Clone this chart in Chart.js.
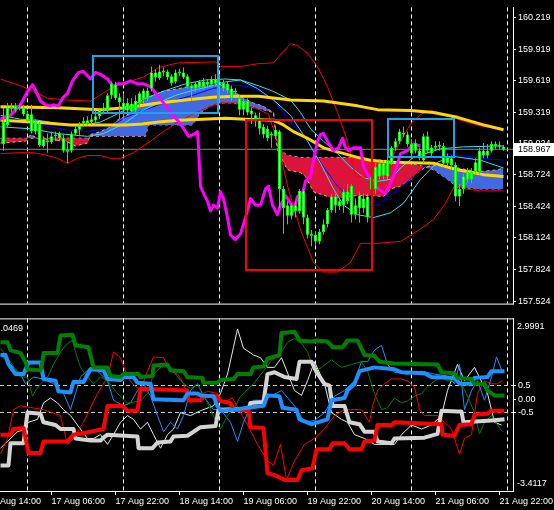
<!DOCTYPE html>
<html>
<head>
<meta charset="utf-8">
<script src="https://cdn.jsdelivr.net/npm/chart.js@4.4.1/dist/chart.umd.min.js"></script>
<style>
  html, body { margin: 0; padding: 0; background: #000; }
  #wrap { width: 554px; height: 510px; position: relative; overflow: hidden; background: #000; }
  canvas { display: block; position: absolute; left: 0; }
  #price { top: 0; }
  #osc { top: 311px; }
</style>
</head>
<body>
<div id="wrap">
  <canvas id="price" width="554" height="311"></canvas>
  <canvas id="osc" width="554" height="199"></canvas>
</div>
<script>
// hours are counted from 16 Aug 14:00, one candle per hour
var firstBarHour = 4;
var candleOpen = [
  159.017,159.199,159.353,159.380,159.353,159.362,159.308,159.299,159.135,159.208,
  159.063,159.035,159.035,159.090,159.117,159.072,158.944,158.954,159.117,159.153,
  159.217,159.217,159.226,159.244,159.281,159.335,159.344,159.480,159.580,159.462,
  159.408,159.335,159.399,159.335,159.408,159.444,159.526,159.544,159.698,159.644,
  159.698,159.707,159.662,159.608,159.689,159.698,159.662,159.571,159.544,159.562,
  159.608,159.580,159.580,159.635,159.571,159.598,159.589,159.544,159.508,159.453,
  159.344,159.426,159.335,159.290,159.244,159.181,159.162,159.099,159.090,159.135,
  158.590,158.436,158.336,158.436,158.381,158.572,158.318,158.163,158.154,158.091,
  158.181,158.254,158.390,158.518,158.472,158.436,158.563,158.345,158.436,158.409,
  158.499,158.318,158.590,158.590,158.708,158.835,158.708,158.835,158.981,159.044,
  159.126,159.108,159.017,158.954,158.954,158.863,159.090,158.981,158.981,158.990,
  158.999,158.835,158.881,158.817,158.518,158.590,158.681,158.754,158.754,158.754,
  158.954,158.908,158.954,159.017,158.990,158.990];
var candleHigh = [
  159.362,159.408,159.408,159.408,159.399,159.390,159.335,159.390,159.253,159.226,
  159.090,159.117,159.135,159.135,159.135,159.108,159.044,159.135,159.190,159.226,
  159.271,159.281,159.299,159.335,159.362,159.408,159.499,159.608,159.608,159.499,
  159.499,159.453,159.453,159.480,159.517,159.544,159.553,159.753,159.726,159.771,
  159.744,159.726,159.680,159.726,159.735,159.744,159.680,159.589,159.608,159.626,
  159.644,159.635,159.662,159.680,159.680,159.626,159.608,159.571,159.553,159.480,
  159.444,159.453,159.362,159.317,159.317,159.208,159.190,159.135,159.181,159.153,
  158.617,158.472,158.454,158.472,158.590,158.590,158.345,158.200,158.181,158.209,
  158.300,158.409,158.545,158.545,158.499,158.590,158.636,158.636,158.499,158.563,
  158.545,158.545,158.726,158.835,158.863,158.863,158.890,158.999,159.072,159.162,
  159.181,159.135,159.063,159.063,158.981,159.117,159.135,159.008,159.044,159.044,
  159.026,158.926,158.908,158.845,158.636,158.736,158.790,158.790,158.881,158.981,
  159.026,159.017,159.044,159.044,159.044,159.008];
var candleLow = [
  158.954,159.172,159.317,159.317,159.335,159.281,159.226,159.117,159.108,158.990,
  158.981,158.935,159.017,159.044,159.044,158.935,158.835,158.935,159.090,159.090,
  159.181,159.190,159.199,159.199,159.253,159.299,159.317,159.444,159.435,159.253,
  159.244,159.317,159.317,159.317,159.362,159.408,159.426,159.517,159.608,159.626,
  159.662,159.626,159.571,159.589,159.662,159.635,159.544,159.426,159.517,159.535,
  159.535,159.553,159.553,159.571,159.408,159.517,159.499,159.426,159.480,159.290,
  159.290,159.290,159.208,159.181,159.108,159.072,159.044,158.981,159.063,158.409,
  158.163,158.254,158.300,158.318,158.354,158.254,158.118,158.045,158.045,158.064,
  158.154,158.227,158.363,158.363,158.390,158.363,158.445,158.272,158.300,158.272,
  158.363,158.272,158.499,158.545,158.681,158.681,158.681,158.817,158.954,159.017,
  159.081,158.990,158.899,158.926,158.863,158.835,158.926,158.899,158.954,158.954,
  158.808,158.808,158.772,158.472,158.427,158.545,158.645,158.645,158.726,158.726,
  158.881,158.881,158.935,158.972,158.972,158.954];
var candleClose = [
  159.226,159.362,159.371,159.344,159.371,159.299,159.244,159.135,159.226,159.008,
  158.999,159.053,159.090,159.108,159.072,158.954,158.963,159.117,159.162,159.190,
  159.235,159.244,159.253,159.281,159.335,159.362,159.480,159.589,159.453,159.417,
  159.344,159.408,159.326,159.426,159.499,159.526,159.453,159.698,159.653,159.707,
  159.717,159.653,159.598,159.698,159.707,159.653,159.562,159.544,159.589,159.608,
  159.562,159.608,159.635,159.589,159.608,159.544,159.526,159.453,159.526,159.344,
  159.426,159.317,159.299,159.253,159.162,159.108,159.072,159.117,159.153,158.590,
  158.409,158.336,158.436,158.381,158.572,158.318,158.154,158.145,158.091,158.181,
  158.254,158.390,158.518,158.436,158.427,158.563,158.472,158.617,158.345,158.527,
  158.409,158.518,158.708,158.799,158.835,158.717,158.863,158.981,159.044,159.135,
  159.108,159.017,158.926,159.026,158.890,159.090,158.954,158.926,158.999,159.008,
  158.835,158.890,158.817,158.518,158.590,158.708,158.754,158.681,158.845,158.954,
  158.908,158.954,159.017,158.999,159.008,158.967];
var lastPrice = 158.967;

// [hour, price] lines on the price panel
var bandUpper = [[3.25,159.635],[8.25,159.571],[11.5,159.517],[15,159.453],[20,159.435],[25.75,159.426],[30.75,159.544],[35,159.608],[39,159.653],[42.75,159.744],[47.75,159.789],[57,159.798],[58.25,159.753],[63.25,159.753],[67.5,159.780],[71.5,159.789],[73.75,159.889],[75.75,159.971],[77.5,159.953],[80,159.880],[82.5,159.753],[85,159.562],[87.5,159.317],[90,159.044],[92,158.708],[95.75,158.699],[98.25,158.754],[100.75,158.863],[103.25,159.044],[105.75,159.208],[108.25,159.299],[110.75,159.335],[114.5,159.299],[118.25,159.244],[123.25,159.190],[129,159.153]];
var bandLower = [[3.25,158.926],[8.25,158.935],[11.5,158.935],[15,158.908],[17.5,158.881],[20,158.835],[22.5,158.881],[25,158.908],[28.25,158.908],[30.75,158.881],[33.25,158.881],[36.5,158.935],[40.75,159.044],[44,159.135],[47.5,159.226],[50.75,159.290],[53.25,159.335],[57.75,159.408],[62,159.408],[67,159.362],[70.25,159.299],[72.5,159.044],[75,158.617],[78.25,158.200],[81.5,157.891],[84,157.800],[87.5,157.800],[90.75,157.891],[93.25,158.073],[97.5,158.073],[103.25,158.091],[108.25,158.209],[111.5,158.300],[114.5,158.454],[117,158.636],[119.5,158.590],[123.25,158.572],[129,158.572]];
var laggingSpan = [[3.25,159.253],[5.75,159.290],[8.25,159.390],[10,159.517],[11.25,159.580],[12,159.526],[13.25,159.426],[14.5,159.390],[15.75,159.380],[16.5,159.390],[17.75,159.380],[18.75,159.453],[20,159.499],[21.25,159.617],[22.75,159.698],[24,159.707],[25.75,159.635],[27,159.698],[28.25,159.680],[30,159.635],[31.5,159.562],[32.5,159.589],[34,159.589],[35.75,159.617],[37.5,159.589],[39,159.589],[40.75,159.562],[42.5,159.480],[44,159.408],[45.75,159.317],[47.5,159.244],[48.75,159.181],[50.25,159.090],[51.5,159.108],[52.5,159.135],[52.75,158.981],[53.25,158.617],[53.75,158.572],[55,158.472],[55.75,158.381],[56.5,158.436],[57.5,158.409],[58.25,158.563],[59,158.499],[60,158.318],[60.75,158.154],[62,158.109],[63.25,158.163],[64.5,158.318],[65.75,158.499],[67,158.436],[68.25,158.436],[69.5,158.590],[70.25,158.617],[71.25,158.436],[72.5,158.345],[73.25,158.436],[74.5,158.527],[75.75,158.454],[76.5,158.381],[77.5,158.518],[78.75,158.545],[79.5,158.663],[80.75,158.708],[81.5,158.863],[82.5,159.044],[83.25,159.108],[84,159.117],[85,159.044],[86.5,158.954],[87.75,158.981],[88.75,159.072],[89.5,158.981],[90.25,158.954],[91.5,158.981],[93.25,158.981],[94,158.799],[95.75,158.681],[97.75,158.590],[99.5,158.545],[101.5,158.708],[103.25,158.926],[105,158.954],[106.5,159.017],[108.25,158.999]];
var spanA = [[3.25,159.026],[9.5,159.044],[10.75,159.108],[12.5,159.072],[19.5,159.044],[22,158.999],[25,159.026],[25.75,159.108],[28.25,159.135],[30.75,159.181],[32.5,159.244],[34,159.271],[35.75,159.317],[39.5,159.453],[40.25,159.462],[43.75,159.517],[47.75,159.544],[51.25,159.571],[52.5,159.571],[53.25,159.571],[55.75,159.571],[59,159.571],[61.5,159.517],[64,159.453],[66.5,159.408],[68.75,159.380],[71.5,159.317],[72.5,158.954],[75,158.772],[78.25,158.745],[79.5,158.708],[81.5,158.563],[86.5,158.499],[90,158.518],[92.5,158.527],[95.75,158.527],[99,158.518],[100.75,158.590],[103.25,158.617],[105.75,158.681],[107.5,158.745],[109.5,158.799],[111.5,158.817],[115,158.799],[117.5,158.790],[122.5,158.754],[127.5,158.772],[129,158.790]];
var spanB = [[3.25,159.072],[9.5,159.072],[10.75,159.072],[12.5,159.072],[19.5,159.072],[22,159.072],[25,159.072],[25.75,159.090],[28.25,159.090],[30.75,159.090],[32.5,159.090],[34,159.090],[35.75,159.090],[39.5,159.090],[40.25,159.199],[43.75,159.199],[47.75,159.199],[51.25,159.199],[52.5,159.271],[53.25,159.317],[55.75,159.380],[59,159.408],[61.5,159.408],[64,159.380],[66.5,159.362],[68.75,159.344],[71.5,159.317],[72.5,158.981],[75,158.908],[78.25,158.890],[79.5,158.890],[81.5,158.890],[86.5,158.890],[90,158.890],[92.5,158.890],[95.75,158.863],[99,158.863],[100.75,158.854],[103.25,158.845],[105.75,158.826],[107.5,158.817],[109.5,158.799],[111.5,158.772],[115,158.681],[117.5,158.608],[122.5,158.590],[127.5,158.590],[129,158.590]];
var maSlow = [[3.25,159.371],[17.75,159.362],[28.25,159.344],[34.5,159.362],[42.75,159.408],[49.5,159.435],[56.25,159.462],[62,159.471],[67.75,159.471],[75.75,159.435],[84,159.426],[92.5,159.380],[97.5,159.344],[105.75,159.335],[111.5,159.317],[117.5,159.271],[124,159.199],[129,159.153]];
var maMid = [[3.25,159.244],[11.5,159.226],[20.75,159.199],[34.5,159.199],[38.75,159.208],[42.75,159.226],[47.75,159.244],[53.75,159.253],[59.5,159.262],[64.5,159.253],[71.5,159.244],[74,159.199],[76.5,159.135],[80,159.072],[84,158.981],[88.25,158.935],[92.5,158.890],[95.75,158.863],[100.75,158.845],[111.5,158.835],[117.5,158.772],[124,158.726],[129,158.708]];
var cyanSlow = [[3.25,159.181],[10.75,159.162],[17.5,159.117],[25,159.090],[29,159.117],[34,159.208],[38.75,159.335],[42.75,159.408],[47,159.480],[51.25,159.526],[55.25,159.562],[59.5,159.608],[63.25,159.626],[67.5,159.544],[71.5,159.435],[75.75,159.290],[80,159.044],[83.25,158.835],[86.5,158.590],[89,158.436],[92.5,158.345],[96.5,158.318],[100.75,158.363],[104,158.454],[108.25,158.681],[112.5,158.845],[116.5,158.899],[123.25,158.863],[129,158.790]];
var cyanFast = [[3.25,159.290],[8.25,159.253],[12.5,159.244],[18.25,159.208],[22.5,159.199],[25.75,159.208],[28.25,159.226],[30.75,159.271],[34,159.335],[39.5,159.453],[44.5,159.526],[49.5,159.589],[54.5,159.626],[59.5,159.635],[63.25,159.626],[67.75,159.571],[71.5,159.517],[75.75,159.435],[78.25,159.317],[80.75,159.162],[84,159.044],[87.5,158.926],[90.75,158.799],[94,158.699],[97.5,158.663],[100.75,158.681],[103.25,158.790],[106.5,158.890],[113.25,158.972],[119,158.990],[129,158.999]];
var blueLine = [[3.25,159.271],[7.5,159.226],[11.5,159.199],[15.75,159.181],[20,159.153],[24,159.135],[28.25,159.153],[31.5,159.199],[34.5,159.271],[42.75,159.390],[51.25,159.480],[56.25,159.544],[61.25,159.580],[65.25,159.562],[67.75,159.526],[71.5,159.435],[75.75,159.226],[80,159.044],[84,158.799],[87.5,158.617],[90.75,158.499],[94,158.436],[97.5,158.436],[100.75,158.527],[106.5,158.708],[110.75,158.863],[115,158.926],[121.5,158.890],[129,158.863]];

// rectangles drawn on the chart: [start hour, end hour] and [top price, bottom price]
var boxHours = [[26.25, 57.5], [64.5, 96], [100, 116.5]];
var boxPrices = [[159.853, 159.308], [159.244, 157.818], [159.253, 158.890]];

var priceTicks = [160.219, 159.919, 159.619, 159.319, 159.024, 158.724, 158.424, 158.124, 157.824, 157.524];
var dayStartHours = [10, 34, 58, 82, 106, 130];
var labelHours = [0, 16, 32, 48, 64, 80, 96, 112, 128];
var timeLabels = ["16 Aug 14:00", "17 Aug 06:00", "17 Aug 22:00", "18 Aug 14:00", "19 Aug 06:00",
  "19 Aug 22:00", "20 Aug 14:00", "21 Aug 06:00", "21 Aug 22:00"];

// oscillator panel: [hour, value]
var oscMax = 2.9991, oscMin = -3.4117;
var oscTitle = "1.0469";
var oscTicks = [0.5, 0, -0.5];
var oscTickLabels = ["0.5", "0.00", "-0.5"];
var oscLevels = [0.5, -0.5];
var greenThick = [[3.25,2.11],[5,2.11],[5.75,1.82],[8.25,1.71],[9.5,1.39],[10,1.11],[13.25,1.07],[13.75,1.39],[14,1.71],[17.5,1.71],[18.25,2.36],[21.25,2.39],[22,2.00],[25.25,1.93],[26.5,1.18],[30,1.18],[30.75,0.86],[33.25,0.82],[34,0.93],[37.75,0.93],[38.25,0.82],[41.25,0.86],[41.5,1.25],[45,1.29],[45.75,1.07],[49,1.04],[50,0.82],[53.75,0.79],[54,0.61],[57.5,0.61],[58.25,0.71],[61.5,0.75],[62.5,0.93],[65.75,0.93],[66.5,1.18],[69,1.21],[70,1.50],[73,1.64],[73.5,2.46],[76.75,2.50],[78,2.18],[81,2.14],[82.25,2.18],[85,2.14],[86.25,1.93],[88.75,1.93],[90,2.18],[92.5,2.18],[94.25,1.64],[96.75,1.61],[98,1.39],[101.75,1.32],[112.5,1.29],[113.5,1.00],[116.75,0.96],[117.5,0.79],[121,0.75],[121.75,0.57],[124.25,0.57],[125,0.32],[126.75,0.14],[129.25,0.14]];
var blueThick = [[3.25,1.64],[4.5,1.64],[5.25,1.29],[7,0.93],[9,0.93],[10.25,1.36],[13.25,1.36],[14,0.75],[17,0.68],[17.75,0.29],[20.75,0.25],[21.5,0.64],[24,0.64],[25.75,1.11],[29,1.07],[30,0.75],[33.25,0.71],[34,0.82],[36.5,0.82],[37.5,0.61],[40.75,0.57],[41.5,0.00],[49,-0.04],[50,0.21],[52.5,0.21],[53.25,0.14],[56.5,0.11],[57.5,-0.25],[58.25,-0.43],[61.5,-0.39],[65,-0.32],[69,-0.25],[70,0.14],[73,0.11],[73.75,-0.32],[77.25,-0.39],[78,-0.75],[81,-0.93],[82.5,-0.86],[85,-0.75],[86,-0.04],[89.25,0.04],[90,0.32],[91.75,0.57],[93,1.04],[96.75,1.18],[101.75,1.11],[103.5,1.00],[109.25,0.96],[111,0.82],[116.75,0.79],[118,0.57],[121,0.57],[121.75,0.79],[125,0.82],[126,1.04],[129.25,1.04]];
var redThick = [[3.25,-1.32],[5.75,-1.32],[6.5,-1.11],[9,-1.07],[10.25,-2.00],[13.25,-2.00],[14,-1.57],[20,-1.57],[21.5,-1.32],[25.75,-1.21],[29,-1.11],[30,-0.25],[33.75,-0.25],[35,-0.43],[37.5,-0.43],[38.25,0.39],[50,0.32],[50.25,-0.04],[53.25,-0.04],[54,0.11],[57.5,0.11],[58.25,-0.07],[60.75,-0.14],[61.5,-0.39],[65.25,-0.43],[65.75,-1.04],[69,-1.07],[70,-2.75],[71.75,-2.82],[74.25,-3.00],[77.5,-3.00],[78.5,-2.64],[81.25,-2.57],[82.25,-1.86],[85.5,-1.86],[86.25,-1.64],[89.25,-1.64],[90.5,-1.86],[93.5,-1.86],[94.25,-1.57],[96.75,-1.54],[97.5,-0.96],[101,-0.96],[101.75,-0.86],[113.5,-0.93],[113.75,-1.32],[116.75,-1.36],[118,-0.96],[121,-0.93],[121.75,-0.57],[125,-0.54],[126,-0.43],[129.25,-0.43]];
var grayThick = [[3.25,-2.46],[5.25,-2.46],[5.75,-1.64],[9,-1.64],[10,-0.50],[13.25,-0.54],[14,-0.86],[17,-0.96],[18.25,-1.11],[21.5,-1.11],[22,-1.46],[25.75,-1.54],[28.25,-1.54],[29,-1.43],[30,-1.32],[37.5,-1.39],[37.75,-1.82],[41.25,-1.82],[42.5,-1.61],[45.75,-1.57],[46.5,-1.39],[50,-1.36],[53.25,-1.04],[57,-1.00],[57.75,-0.39],[65.25,-0.36],[65.75,-0.14],[69,-0.11],[70,0.93],[71.75,1.00],[74.25,0.82],[77.25,0.75],[78,1.39],[81,1.39],[82.25,1.00],[84.25,0.57],[85.5,0.50],[86.25,-0.25],[89.25,-0.25],[90.5,-0.86],[93,-0.93],[94.25,-1.21],[96.75,-1.21],[97.5,-1.57],[101,-1.64],[101.75,-1.46],[109.25,-1.43],[112.5,-1.29],[113.5,-0.43],[117.5,-0.46],[118.5,-0.46],[119,-0.86],[126,-0.79],[129.25,-0.75]];
var greenThin = [[3.25,1.89],[5,1.54],[8.25,0.82],[10,0.82],[11.25,0.11],[12,0.32],[13.25,0.57],[15,0.82],[16.5,1.29],[18.25,1.75],[20,2.07],[21.25,2.18],[22,1.75],[23.25,1.18],[25,0.82],[26.5,0.57],[28.25,0.82],[30,0.68],[32.5,0.21],[35,-0.14],[38.25,-0.07],[40,0.21],[41.5,0.93],[44,1.29],[45.75,1.18],[48.25,0.68],[50.75,0.39],[52.5,0.57],[55,-0.14],[57.5,-0.96],[58.25,-1.11],[60,-0.61],[61.5,-0.39],[63.25,0.11],[66.5,0.57],[69,1.04],[70.75,1.39],[73.5,1.75],[75,2.11],[76.75,2.25],[78.5,2.07],[80,1.75],[81.75,1.04],[83.5,1.18],[86,1.46],[88.5,1.18],[91,1.29],[93.5,1.39],[95,1.04],[96.75,0.21],[98.5,-0.39],[100,-0.32],[101.75,0.04],[103.5,-0.14],[105,-0.07],[106.75,0.11],[108.5,0.21],[110,0.46],[111.75,0.68],[113.5,0.82],[115,0.68],[116.75,0.68],[118.5,0.57],[120,0.11],[121.75,-0.50],[123,-1.29],[124.25,-0.86],[126,-0.61],[127.5,-0.96],[128.75,-1.21]];
var blueThin = [[3.25,1.64],[5,1.39],[8.25,0.93],[9.5,0.57],[11.5,0.82],[14,0.75],[16.5,0.57],[19,0.21],[20.75,-0.39],[23.25,0.82],[25.75,1.18],[27.5,1.04],[30,0.68],[31.5,-0.04],[34,-0.25],[35.75,-0.14],[37.5,0.32],[39,0.57],[40.75,0.11],[42.5,-0.61],[44,-1.21],[45.75,-0.86],[47.5,-1.11],[49,-0.61],[50.75,0.32],[52.5,0.57],[54,0.11],[56.5,-0.39],[58.25,-0.39],[60.75,-0.86],[62.5,-1.57],[64,-0.86],[66.5,-0.04],[69,-0.04],[70.75,0.11],[73.5,0.32],[76.75,-0.25],[79.25,-0.86],[81.75,-0.79],[84.25,-0.50],[86.75,0.11],[89.25,0.32],[91.75,0.68],[93.5,1.39],[95,1.39],[96.75,1.82],[98.5,2.00],[100,1.29],[101.75,1.00],[105,0.93],[108.5,1.04],[111.75,0.93],[115,0.86],[116.75,0.57],[118,1.29],[119.25,-0.39],[121,0.32],[122.5,0.68],[124.25,-0.04],[126,0.82],[127.25,1.57],[128.75,1.00]];
var redThin = [[3.25,-2.04],[5,-1.46],[6.5,-0.39],[8.25,-0.25],[14,-0.39],[18.25,-0.61],[20,-1.68],[21.5,-1.46],[24,-0.86],[27.5,0.21],[30,0.82],[31.5,1.75],[33.25,1.54],[35,0.82],[36.25,0.57],[38.25,0.32],[40,1.04],[41.5,1.57],[44,1.54],[45.75,1.04],[47.5,0.93],[49,0.57],[50.75,-0.14],[52.5,0.11],[55,0.29],[57.5,0.21],[58.75,-0.14],[61.25,0.04],[65,-0.96],[67.5,-1.68],[70,-2.29],[71.5,-2.46],[73.25,-1.68],[74.75,-3.00],[76.75,-2.29],[79.25,-1.68],[81.75,-1.46],[84.25,-1.11],[86.75,-0.61],[89.25,-0.39],[93.5,-0.39],[95.5,-0.86],[96.25,-0.25],[97.5,0.32],[99.25,0.57],[101,0.75],[103.5,0.75],[105,0.68],[106.75,0.46],[108,-0.39],[109.25,-0.61],[112.5,-0.61],[114.25,-0.86],[116,-1.11],[118,-2.04],[119.25,-1.46],[121,-1.32],[122.5,0.21],[124.25,0.68],[126,0.57],[127.5,0.57],[128.75,0.68]];
var whiteThin = [[3.25,-1.82],[7.5,-1.21],[9,-1.14],[10.25,-0.86],[12.5,-0.75],[14,-0.14],[15.75,0.04],[17.5,-0.14],[19,-0.39],[20.75,-0.61],[22.5,-0.96],[25,-1.46],[26.5,-1.46],[28.25,-1.32],[30,-1.68],[31.5,-1.32],[33.25,-0.86],[35,-0.61],[36.5,-0.75],[38.25,-1.11],[40,-0.86],[41.5,-1.32],[43.25,-1.82],[45,-1.32],[46.5,-1.11],[48.25,-0.50],[50.75,-0.61],[53.25,-0.43],[56.5,-0.25],[58.25,0.21],[60,0.93],[61.5,1.93],[62.5,2.61],[64,1.89],[66.5,1.64],[68.25,1.54],[70,1.18],[71.75,1.18],[73.5,1.54],[76.75,0.32],[78.5,0.14],[80,0.68],[81.75,1.39],[84.25,0.57],[86,-0.50],[88.5,-0.75],[90,-0.86],[91.75,-1.32],[94.25,-1.46],[96.75,-1.68],[101.75,-1.68],[103.5,-1.32],[106,-0.96],[108.5,-1.11],[111,-0.96],[113.5,-0.61],[115,0.32],[117.5,1.29],[119.25,0.68],[121.75,1.18],[125,0.21],[126.75,-0.86],[128.5,-0.96]];

Chart.defaults.font.family = '"Liberation Sans", Arial, sans-serif';
Chart.defaults.font.size = 9;
Chart.defaults.color = '#ffffff';
Chart.defaults.animation = false;

var xMin = 3.125, xMax = 131.375;
var axisWidth = 41;

function pts(list) { return list.map(function (p) { return { x: p[0], y: p[1] }; }); }
function line(data, color, width, extra) {
  return Object.assign({ type: 'line', data: pts(data), borderColor: color, borderWidth: width,
    pointRadius: 0, fill: false, tension: 0, borderJoinStyle: 'round' }, extra || {});
}

var dayGrid = {
  id: 'dayGrid',
  beforeDatasetsDraw: function (chart) {
    var ctx = chart.ctx, a = chart.chartArea, x = chart.scales.x;
    ctx.save();
    ctx.strokeStyle = '#ffffff';
    ctx.lineWidth = 1;
    ctx.setLineDash([4, 3]);
    dayStartHours.forEach(function (h) {
      var px = Math.floor(x.getPixelForValue(h)) + 0.5;
      if (px > a.right) return;
      ctx.beginPath(); ctx.moveTo(px, a.top); ctx.lineTo(px, a.bottom); ctx.stroke();
    });
    ctx.restore();
  }
};

var frame = {
  id: 'frame',
  afterDraw: function (chart, args, opts) {
    var ctx = chart.ctx, a = chart.chartArea;
    ctx.save();
    ctx.strokeStyle = '#ffffff';
    ctx.lineWidth = 1;
    (opts.edges || []).forEach(function (e) {
      var y = (e === 'top' ? a.top : a.bottom) + 0.5;
      ctx.beginPath(); ctx.moveTo(0, y); ctx.lineTo(a.right + 1, y); ctx.stroke();
    });
    ctx.restore();
  }
};

var boxes = {
  id: 'boxes',
  afterDatasetsDraw: function (chart) {
    var ctx = chart.ctx, x = chart.scales.x, y = chart.scales.y;
    var colors = ['#1ca3e6', '#ff0000', '#1ca3e6'];
    ctx.save();
    ctx.lineWidth = 2;
    boxHours.forEach(function (hr, i) {
      var x0 = x.getPixelForValue(hr[0]), x1 = x.getPixelForValue(hr[1]);
      var y0 = y.getPixelForValue(boxPrices[i][0]), y1 = y.getPixelForValue(boxPrices[i][1]);
      ctx.strokeStyle = colors[i];
      ctx.strokeRect(Math.round(x0), Math.round(y0), Math.round(x1 - x0), Math.round(y1 - y0));
    });
    ctx.restore();
  }
};

var priceTag = {
  id: 'priceTag',
  afterDraw: function (chart) {
    var ctx = chart.ctx, a = chart.chartArea, y = chart.scales.y;
    var py = Math.round(y.getPixelForValue(lastPrice));
    ctx.save();
    ctx.fillStyle = '#ffffff';
    ctx.fillRect(a.right + 1, py - 6, chart.width - a.right - 1, 13);
    ctx.fillStyle = '#000000';
    ctx.font = '9px "Liberation Sans", Arial, sans-serif';
    ctx.textBaseline = 'middle';
    ctx.textAlign = 'left';
    ctx.fillText(lastPrice.toFixed(3), a.right + 5, py + 0.5);
    ctx.restore();
  }
};

var oscExtras = {
  id: 'oscExtras',
  beforeDatasetsDraw: function (chart) {
    var ctx = chart.ctx, a = chart.chartArea, y = chart.scales.y;
    ctx.save();
    ctx.strokeStyle = '#c8c8c8';
    ctx.lineWidth = 1;
    ctx.setLineDash([4, 3]);
    oscLevels.forEach(function (v) {
      var py = Math.floor(y.getPixelForValue(v)) + 0.5;
      ctx.beginPath(); ctx.moveTo(a.left, py); ctx.lineTo(a.right, py); ctx.stroke();
    });
    ctx.restore();
  },
  afterDraw: function (chart) {
    var ctx = chart.ctx, a = chart.chartArea;
    ctx.save();
    ctx.fillStyle = '#ffffff';
    ctx.font = '9px "Liberation Sans", Arial, sans-serif';
    ctx.textBaseline = 'middle';
    ctx.textAlign = 'left';
    ctx.fillText(oscMax.toFixed(4), a.right + 4, a.top + 8);
    ctx.fillText(oscMin.toFixed(4), a.right + 4, a.bottom - 7);
    ctx.textAlign = 'right';
    ctx.fillText(oscTitle, 23, a.top + 10);
    ctx.restore();
  }
};

var bodies = candleOpen.map(function (o, i) {
  var c = candleClose[i];
  return { x: firstBarHour + i, y: [Math.min(o, c), Math.max(o, c)] };
});
var wicks = candleHigh.map(function (h, i) {
  return { x: firstBarHour + i, y: [candleLow[i], h] };
});

new Chart(document.getElementById('price'), {
  type: 'line',
  data: {
    datasets: [
      { type: 'bar', data: bodies, backgroundColor: '#ffffff', borderColor: '#00ff00', borderWidth: 1,
        borderSkipped: false, barThickness: 3, grouped: false, inflateAmount: 0 },
      { type: 'bar', data: wicks, backgroundColor: '#00ff00', borderWidth: 0,
        barThickness: 1, grouped: false, inflateAmount: 0 },
      line(laggingSpan, '#ff00ff', 3),
      line(maSlow, '#ffd700', 3),
      line(maMid, '#ffd700', 3),
      line(bandUpper, '#ff0000', 1),
      line(bandLower, '#ff0000', 1),
      line(cyanSlow, '#33ddff', 1),
      line(cyanFast, '#33ddff', 1),
      line(blueLine, '#0000ff', 1),
      line([[xMin, lastPrice], [xMax, lastPrice]], '#808890', 1),
      line(spanA, '#f4a460', 1, { borderDash: [3, 3], fill: { target: 12, above: '#4169e1', below: '#dc143c' } }),
      line(spanB, '#d8bfd8', 1, { borderDash: [3, 3] })
    ]
  },
  options: {
    responsive: false,
    devicePixelRatio: 1,
    layout: { padding: { left: 0, right: 0, top: 0, bottom: 1 } },
    plugins: { legend: { display: false }, tooltip: { enabled: false }, frame: { edges: ['bottom'] } },
    scales: {
      x: { type: 'linear', min: xMin, max: xMax, offset: false, display: false },
      y: {
        position: 'right', min: 157.50, max: 160.316,
        afterFit: function (s) { s.width = axisWidth; },
        afterBuildTicks: function (s) { s.ticks = priceTicks.map(function (v) { return { value: v }; }); },
        ticks: { autoSkip: false, padding: 2, callback: function (v) { return Number(v).toFixed(3); } },
        grid: { drawOnChartArea: false, drawTicks: true, tickLength: 3, color: '#ffffff' },
        border: { display: true, color: '#ffffff' }
      }
    }
  },
  plugins: [dayGrid, boxes, frame, priceTag]
});

new Chart(document.getElementById('osc'), {
  type: 'line',
  data: {
    datasets: [
      line(greenThick, '#008000', 4),
      line(blueThick, '#1e90ff', 4),
      line(redThick, '#ff0000', 4),
      line(grayThick, '#d3d3d3', 4),
      line(greenThin, '#008000', 1),
      line(blueThin, '#1e90ff', 1),
      line(redThin, '#ff0000', 1),
      line(whiteThin, '#e8e8e8', 1)
    ]
  },
  options: {
    responsive: false,
    devicePixelRatio: 1,
    layout: { padding: { left: 0, right: 0, top: 1, bottom: 0 } },
    plugins: { legend: { display: false }, tooltip: { enabled: false }, frame: { edges: ['top'] } },
    scales: {
      x: {
        type: 'linear', min: xMin, max: xMax, offset: false,
        afterFit: function (s) { s.height = 19; s.paddingLeft = 0; s.paddingRight = 0; },
        afterBuildTicks: function (s) { s.ticks = labelHours.map(function (v) { return { value: v }; }); },
        ticks: { autoSkip: false, maxRotation: 0, align: 'start', padding: 1,
          callback: function (v, i) { return timeLabels[i]; } },
        grid: { drawOnChartArea: false, drawTicks: true, tickLength: 4, color: '#ffffff' },
        border: { display: true, color: '#ffffff' }
      },
      y: {
        position: 'right', min: oscMin, max: oscMax,
        afterFit: function (s) { s.width = axisWidth; },
        afterBuildTicks: function (s) { s.ticks = oscTicks.map(function (v) { return { value: v }; }); },
        ticks: { autoSkip: false, padding: 2, callback: function (v, i) { return oscTickLabels[i]; } },
        grid: { drawOnChartArea: false, drawTicks: true, tickLength: 3, color: '#ffffff' },
        border: { display: true, color: '#ffffff' }
      }
    }
  },
  plugins: [dayGrid, frame, oscExtras]
});
</script>
</body>
</html>
